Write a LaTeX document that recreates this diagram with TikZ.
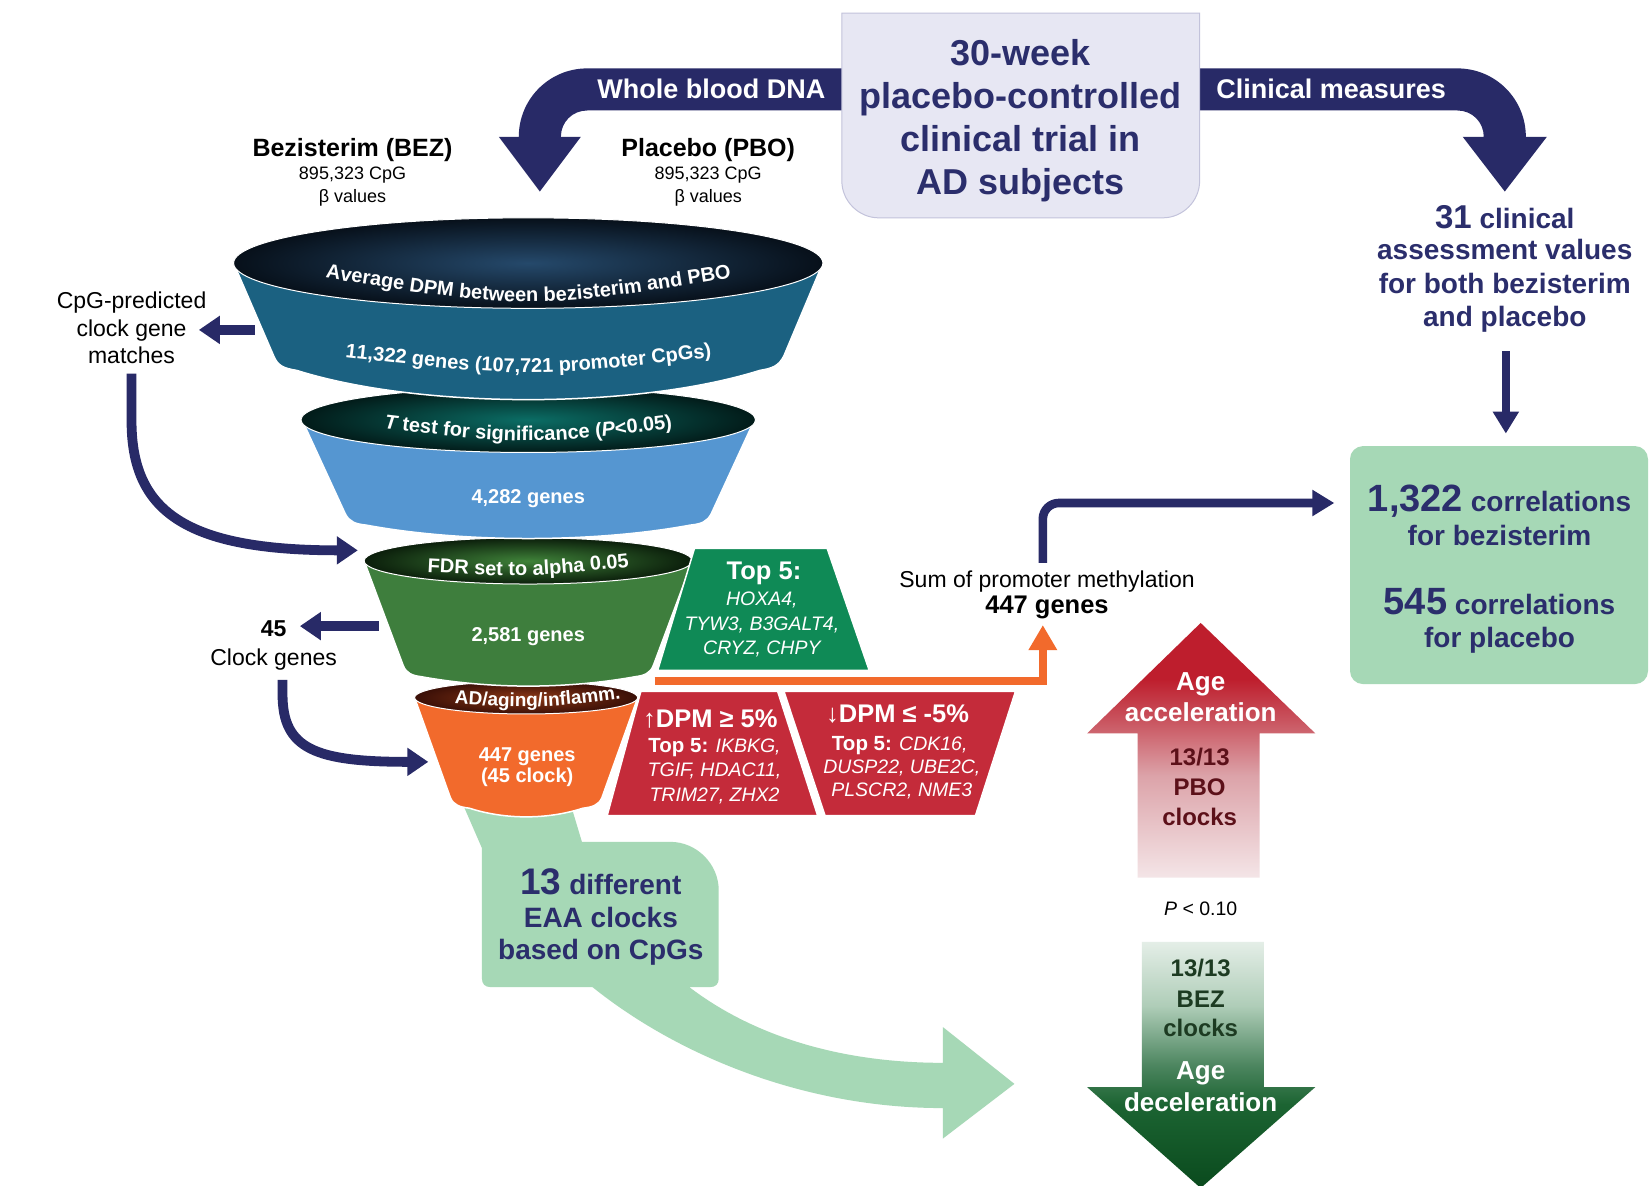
\documentclass[tikz,border=0pt]{standalone}
\usepackage{fontspec}
\setmainfont{Liberation Sans}
\usetikzlibrary{arrows.meta,decorations.text}
\newcommand\fsz[2]{\fontsize{#1}{#2}\selectfont}
\definecolor{navy}{HTML}{282A67}
\definecolor{navyT}{HTML}{2B2E6C}
\definecolor{lav}{HTML}{E7E7F3}
\definecolor{lavB}{HTML}{C3C3DB}
\definecolor{tealF}{HTML}{1B6181}
\definecolor{blueF}{HTML}{5596D1}
\definecolor{greenF}{HTML}{3E7E3D}
\definecolor{topG}{HTML}{0F8A56}
\definecolor{orangeF}{HTML}{F26A2C}
\definecolor{redF}{HTML}{C42B3A}
\definecolor{lgreen}{HTML}{A6D8B6}
\definecolor{eAin}{HTML}{25496B}\definecolor{eAout}{HTML}{07101A}
\definecolor{eBin}{HTML}{0B6D65}\definecolor{eBout}{HTML}{021B19}
\definecolor{eCin}{HTML}{3F8239}\definecolor{eCout}{HTML}{0B1E0B}
\definecolor{eDin}{HTML}{8C3816}\definecolor{eDout}{HTML}{3A0F07}
\definecolor{accA}{HTML}{F4E5E7}\definecolor{accB}{HTML}{DCA3A9}
\definecolor{accC}{HTML}{C9535E}\definecolor{accD}{HTML}{BE1E2D}
\definecolor{decA}{HTML}{E4EEE7}\definecolor{decB}{HTML}{AFCDB8}
\definecolor{decC}{HTML}{4D8660}\definecolor{decD}{HTML}{1C6432}
\definecolor{decE}{HTML}{0A4A1D}
\definecolor{pboT}{HTML}{5C1019}\definecolor{bezT}{HTML}{1D3B22}
\pgfdeclareverticalshading{accshade}{100bp}{color(0bp)=(accA); color(25bp)=(accA); color(45bp)=(accB); color(56bp)=(accC); color(64bp)=(accD); color(100bp)=(accD)}
\pgfdeclareverticalshading{decshade}{100bp}{color(0bp)=(decE); color(25bp)=(decE); color(42bp)=(decD); color(50bp)=(decC); color(62bp)=(decB); color(75bp)=(decA); color(100bp)=(decA)}
\begin{document}
\begin{tikzpicture}[x=1.0523pt,y=-1.0523pt,
  txt/.style={inner sep=0pt,anchor=base},
  boxT/.style={txt,font=\fsz{36}{43}\bfseries,text=navyT},
  bandT/.style={txt,font=\fsz{27}{32}\bfseries,text=white},
  armH/.style={txt,font=\fsz{25}{30}\bfseries},
  armS/.style={txt,font=\fsz{18}{22}},
  navyB/.style={txt,font=\fsz{28}{33}\bfseries,text=navyT},
  sideT/.style={txt,font=\fsz{23}{28}},
  funT/.style={txt,font=\fsz{20}{24}\bfseries,text=white},
  topHead/.style={txt,font=\fsz{25.5}{30}\bfseries,text=white},
  topIt/.style={txt,font=\fsz{19.5}{23}\itshape,text=white},
  ageW/.style={txt,font=\fsz{26}{30}\bfseries,text=white},
  clkT/.style={txt,font=\fsz{24}{29}\bfseries},
  bandW/.style={draw=white,line width=1.5pt},
  navyarr/.style={draw=navy,line width=9.8pt,-{Triangle[width=27pt,length=21pt]}},
  navyarrS/.style={draw=navy,line width=8.6pt,-{Triangle[width=25pt,length=22pt]}},
  curvT/.style={decorate,decoration={text along path,text align=center,text color=white,text={#1}}}
]
\useasboundingbox (0,0) rectangle (1568,1127);
\fill[white] (0,0) rectangle (1568,1127);

% ---- top curved bands ----
\fill[navy] (805,65) -- (558,65) .. controls (522,65) and (493,94) .. (493,130) -- (474,130) -- (513,182) -- (552,130) -- (533,130) .. controls (533,116) and (544,105) .. (558,105) -- (805,105) -- cycle;
\fill[navy] (1135,65) -- (1385,65) .. controls (1421,65) and (1450,94) .. (1450,130) -- (1470,130) -- (1430,182) -- (1390,130) -- (1410,130) .. controls (1410,116) and (1399,105) .. (1385,105) -- (1135,105) -- cycle;
\filldraw[fill=lav,draw=lavB,line width=1pt] (800,12.5) -- (1140,12.5) -- (1140,172) .. controls (1140,191) and (1124,207) .. (1105,207) -- (835,207) .. controls (816,207) and (800,191) .. (800,172) -- cycle;
\node[boxT] (trial1) at (970,62) {30-week};
\node[boxT] (trial2) at (970,103) {placebo-controlled};
\node[boxT] (trial3) at (970,144) {clinical trial in};
\node[boxT] (trial4) at (970,185) {AD subjects};
\node[bandT] (wbd) at (676,94) {Whole blood DNA};
\node[bandT] (clm) at (1265,94) {Clinical measures};

\node[armH] (bez1) at (335,149) {Bezisterim (BEZ)};
\node[armS] (bez2) at (335,171) {895,323 CpG};
\node[armS] (bez3) at (335,192) {β values};
\node[armH] (pbo1) at (673,149) {Placebo (PBO)};
\node[armS] (pbo2) at (673,171) {895,323 CpG};
\node[armS] (pbo3) at (673,192) {β values};

% ---- light green bottom band and arrow ----
\fill[lgreen] (438,760) -- (458,806) -- (458,930) .. controls (458,935) and (461,938) .. (466,938) -- (563,938) .. controls (640,1000) and (760,1053) .. (896,1053) -- (896,1082) -- (964,1030) -- (896,976) -- (896,1010) .. controls (790,1010) and (710,980) .. (655,938) -- (675,938) .. controls (680,938) and (683,935) .. (683,930) -- (683,846) .. controls (683,821) and (662,800) .. (637,800) -- (553,800) -- (541,760) -- cycle;
\node[navyB] (eaa1) at (571,850) {{\fsz{37}{40}13} different};
\node[navyB] (eaa2) at (571,881) {EAA clocks};
\node[navyB] (eaa3) at (571,912) {based on CpGs};

% ---- funnel, bottom stage first ----
\filldraw[fill=orangeF,bandW] (394,663) -- (428,758) .. controls (431,765) and (437,767) .. (446,768) .. controls (480,779) and (520,779) .. (554,768) .. controls (563,767) and (569,765) .. (572,758) -- (606,663) -- cycle;
\shadedraw[inner color=eDin,outer color=eDout,draw=white,line width=1pt] (500,663) ellipse [x radius=106,y radius=15.5];
\filldraw[fill=greenF,bandW] (346,533) -- (383,632) .. controls (386,640) and (392,642) .. (400,643) .. controls (467,655) and (537,655) .. (604,643) .. controls (612,642) and (618,640) .. (621,632) -- (658,533) -- cycle;
\shadedraw[inner color=eCin,outer color=eCout,draw=white,line width=1pt] (502,533) ellipse [x radius=156,y radius=22];
\filldraw[fill=blueF,bandW] (287,399) -- (328,488) .. controls (332,496) and (338,498) .. (348,499) .. controls (440,516) and (564,516) .. (656,499) .. controls (666,498) and (672,496) .. (676,488) -- (717,399) -- cycle;
\shadedraw[inner color=eBin,outer color=eBout,draw=white,line width=1pt] (502,399) ellipse [x radius=216,y radius=31];
\filldraw[fill=tealF,bandW] (222,250) -- (260,338) .. controls (264,348) and (270,350) .. (282,352) .. controls (400,389) and (604,389) .. (722,352) .. controls (734,350) and (740,348) .. (745,338) -- (782,250) -- cycle;
\shadedraw[inner color=eAin,outer color=eAout,draw=white,line width=1pt] (502,250) ellipse [x radius=280,y radius=43];

\path[curvT={|\fsz{20}{24}\bfseries|Average DPM between bezisterim and PBO}] (280,259) .. controls (502,296) .. (724,259);
\path[curvT={|\fsz{20}{24}\bfseries|11,322 genes (107,721 promoter CpGs)}] (300,336) .. controls (502,360) .. (704,336);
\path[curvT={|\fsz{20}{24}\bfseries\itshape|T|\fsz{20}{24}\bfseries\upshape| test for significance (|\fsz{20}{24}\bfseries\itshape|P|\fsz{20}{24}\bfseries\upshape|<0.05)}] (340,404) .. controls (502,424) .. (664,404);
\path[curvT={|\fsz{20}{24}\bfseries|FDR set to alpha 0.05}] (390,543) .. controls (502,549) .. (614,537);
\path[curvT={|\fsz{19}{23}\bfseries|AD/aging/inflamm.}] (410,667) .. controls (511,674) .. (612,661);
\node[funT] (f2) at (502,478) {4,282 genes};
\node[funT] (f3) at (502,610) {2,581 genes};
\node[funT] (f4a) at (501,724) {447 genes};
\node[funT] (f4b) at (501,744) {(45 clock)};

% ---- top-5 panels ----
\filldraw[fill=topG,draw=white,line width=1.5pt] (660,521) -- (786,521) -- (826,637) -- (625,637) -- cycle;
\node[topHead] (g1) at (726,551) {Top 5:};
\node[topIt] (g2) at (724,575) {HOXA4,};
\node[topIt] (g3) at (724,599) {TYW3, B3GALT4,};
\node[topIt] (g4) at (724,622) {CRYZ, CHPY};
\filldraw[fill=redF,draw=white,line width=1.5pt] (609,657) -- (739,657) -- (777,775) -- (577,775) -- cycle;
\filldraw[fill=redF,draw=white,line width=1.5pt] (745,657) -- (965,657) -- (927,775) -- (784,775) -- cycle;
\node[topHead] (r1) at (675,691) {↑DPM ≥ 5\%};
\node[topIt] (r2) at (679,715) {\textbf{\upshape\fsz{20.5}{23}Top 5:} IKBKG,};
\node[topIt] (r3) at (679,738) {TGIF, HDAC11,};
\node[topIt] (r4) at (679,762) {TRIM27, ZHX2};
\node[topHead] (s1) at (853,687) {↓DPM ≤ -5\%};
\node[topIt] (s2) at (855,713) {\textbf{\upshape\fsz{20.5}{23}Top 5:} CDK16,};
\node[topIt] (s3) at (857,735) {DUSP22, UBE2C,};
\node[topIt] (s4) at (857,757) {PLSCR2, NME3};

% ---- sum of promoter methylation ----
\node[sideT] (sum1) at (995,558) {Sum of promoter methylation};
\node[txt,font=\fsz{25.5}{30}\bfseries] (sum2) at (995,583) {447 genes};
\coordinate (orS) at (622,647);
\coordinate (sumBot) at (991,594);
\draw[draw=orangeF,line width=8.4pt,-{Triangle[width=27pt,length=25pt]}] (orS) -| (sumBot);

% ---- right side ----
\node[navyB] (cl1) at (1430,217) {{\fsz{33}{36}31} clinical};
\node[navyB] (cl2) at (1430,247) {assessment values};
\node[navyB] (cl3) at (1430,279) {for both bezisterim};
\node[navyB] (cl4) at (1430,310) {and placebo};
\node[fill=lgreen,rounded corners=13pt,minimum width=298pt,minimum height=238pt,inner sep=0pt] (corr) at (1424.5,537) {};
\node[navyB] (co1) at (1425,486) {{\fsz{38}{40}1,322} correlations};
\node[navyB] (co2) at (1425,518) {for bezisterim};
\node[navyB] (co3) at (1425,584) {{\fsz{38}{40}545} correlations};
\node[navyB] (co4) at (1425,615) {for placebo};
\coordinate (clOut) at (1431,334);
\coordinate (corrIn) at (1431,412);
\draw[navyarrS] (clOut) -- (corrIn);
\coordinate (sumTop) at (991,535);
\coordinate (corrW) at (1268,478);
\draw[navyarrS,rounded corners=16] (sumTop) |- (corrW);

% ---- left side ----
\node[sideT] (cp1) at (125,293) {CpG-predicted};
\node[sideT] (cp2) at (125,320) {clock gene};
\node[sideT] (cp3) at (125,345) {matches};
\node[txt,font=\fsz{23}{28}\bfseries] (n45) at (260,605) {45};
\node[sideT] (clg) at (260,632) {Clock genes};
\coordinate (fA) at (242,313.5);
\coordinate (cpIn) at (189,313.5);
\draw[navyarr] (fA) -- (cpIn);
\coordinate (cpOut) at (125,355);
\coordinate (fdrIn) at (340,523);
\draw[navyarr] (cpOut) -- (125,400) .. controls (125,485) and (175,523) .. (fdrIn);
\coordinate (fC) at (360,595);
\coordinate (clIn) at (285,595);
\draw[navyarr] (fC) -- (clIn);
\coordinate (clOut2) at (268.5,646);
\coordinate (adIn) at (407,724);
\draw[navyarr] (clOut2) -- (268.5,660) .. controls (268.5,712) and (300,724) .. (adIn);

% ---- age arrows ----
\path[shading=accshade] (1141,592) -- (1250,697) -- (1197,697) -- (1197,834) -- (1081,834) -- (1081,697) -- (1033,697) -- cycle;
\node[ageW] (acc1) at (1141,656) {Age};
\node[ageW] (acc2) at (1141,686) {acceleration};
\node[clkT,text=pboT] (p1) at (1140,727) {13/13};
\node[clkT,text=pboT] (p2) at (1140,756) {PBO};
\node[clkT,text=pboT] (p3) at (1140,784) {clocks};
\node[txt,font=\fsz{19.5}{23}] (pval) at (1141,870) {\textit{P} < 0.10};
\path[shading=decshade] (1085,895) -- (1201,895) -- (1201,1033) -- (1250,1033) -- (1141,1129) -- (1033,1033) -- (1085,1033) -- cycle;
\node[clkT,text=bezT] (b1) at (1141,928) {13/13};
\node[clkT,text=bezT] (b2) at (1141,957) {BEZ};
\node[clkT,text=bezT] (b3) at (1141,985) {clocks};
\node[ageW] (dec1) at (1141,1026) {Age};
\node[ageW] (dec2) at (1141,1056) {deceleration};
\end{tikzpicture}
\end{document}
